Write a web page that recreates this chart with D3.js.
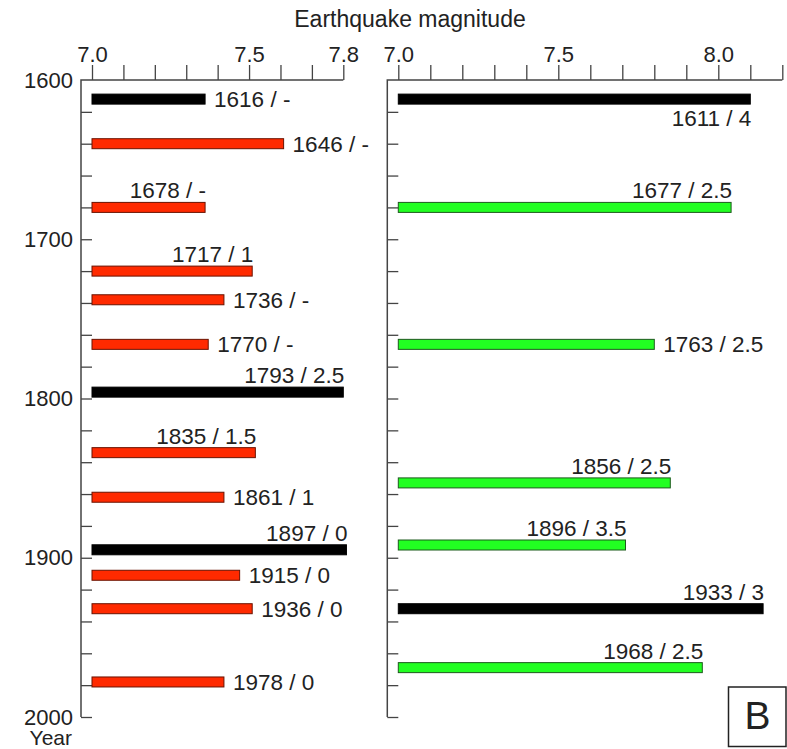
<!DOCTYPE html>
<html>
<head>
<meta charset="utf-8">
<script src="https://cdn.jsdelivr.net/npm/d3@7"></script>
<style>
  body { margin: 0; background: #fff; }
  text { font-family: "Liberation Sans", Arial, sans-serif; fill: #222; }
</style>
</head>
<body>
<script>
// left panel - labels, magnitude, year position as drawn, colour kind, label placement
var leftLabels = ["1616 / -", "1646 / -", "1678 / -", "1717 / 1", "1736 / -", "1770 / -", "1793 / 2.5",
                  "1835 / 1.5", "1861 / 1", "1897 / 0", "1915 / 0", "1936 / 0", "1978 / 0"];
var leftMag = [7.36, 7.61, 7.36, 7.51, 7.42, 7.37, 7.80, 7.52, 7.42, 7.81, 7.47, 7.51, 7.42];
var leftAt = [1612, 1640, 1680, 1720, 1738, 1766, 1796, 1834, 1862, 1895, 1911, 1932, 1978];
var leftKind = ["k", "r", "r", "r", "r", "r", "k", "r", "r", "k", "r", "r", "r"];
var leftPlace = ["right", "right", "above", "above", "right", "right", "above",
                 "above", "right", "above", "right", "right", "right"];

// right panel
var rightLabels = ["1611 / 4", "1677 / 2.5", "1763 / 2.5", "1856 / 2.5", "1896 / 3.5", "1933 / 3", "1968 / 2.5"];
var rightMag = [8.10, 8.04, 7.80, 7.85, 7.71, 8.14, 7.95];
var rightAt = [1612, 1680, 1766, 1853, 1892, 1932, 1969];
var rightKind = ["k", "g", "g", "g", "g", "k", "g"];
var rightPlace = ["below", "above", "right", "above", "above", "above", "above"];

var leftTicks = [7.0, 7.5, 7.8];
var rightTicks = [7.0, 7.5, 8.0];
var yearTicks = [1600, 1700, 1800, 1900, 2000];

var fills = {k: "#000", r: "#ff2a00", g: "#22ff22"};
var strokes = {k: "#000", r: "#6a1200", g: "#1d5a1d"};

var W = 787, H = 749;
var svg = d3.select("body").append("svg").attr("width", W).attr("height", H);

var y = d3.scaleLinear().domain([1600, 2000]).range([80, 717]);

// title
svg.append("text")
    .attr("x", 410).attr("y", 26.5)
    .attr("text-anchor", "middle")
    .style("font-size", "23px")
    .text("Earthquake magnitude");

function panel(axisX, x, labelTicks, labels, mag, at, kind, place, yLabels) {
  var g = svg.append("g");
  var d0 = x.domain()[0], d1 = x.domain()[1];
  var minor = d3.range(Math.round((d1 - d0) * 10) + 1).map(function(i) { return +(d0 + i / 10).toFixed(1); });

  // top axis
  var top = g.append("g").attr("transform", "translate(0,80)")
      .call(d3.axisTop(x).tickValues(minor).tickSize(15).tickPadding(3)
        .tickFormat(function(d) { return labelTicks.indexOf(d) >= 0 ? d3.format(".1f")(d) : ""; }));
  top.select(".domain").remove();
  top.selectAll("line").attr("stroke", "#444").attr("stroke-width", 1.3);
  top.selectAll("text").style("font-size", "22px").style("font-family", "Liberation Sans, Arial, sans-serif").attr("fill", "#222");

  // left axis ticks (inside)
  var side = g.append("g").attr("transform", "translate(" + axisX + ",0)")
      .call(d3.axisRight(y).tickValues(d3.range(1620, 2001, 20)).tickSize(11).tickFormat(""));
  side.select(".domain").remove();
  side.selectAll("line").attr("stroke", "#444").attr("stroke-width", 1.3);

  if (yLabels) {
    var lab = g.append("g").attr("transform", "translate(" + axisX + ",0)")
        .call(d3.axisLeft(y).tickValues(yearTicks).tickSize(0).tickPadding(8).tickFormat(d3.format("d")));
    lab.select(".domain").remove();
    lab.selectAll("text").style("font-size", "22px").style("font-family", "Liberation Sans, Arial, sans-serif").attr("fill", "#222");
  }

  // frame lines
  g.append("path")
      .attr("d", "M" + x(d1) + "," + y(1600) + "H" + axisX + "V" + y(2000))
      .attr("fill", "none").attr("stroke", "#444").attr("stroke-width", 1.5);

  // bars
  var bh = 10;
  g.selectAll("rect.bar").data(mag).enter().append("rect")
      .attr("class", "bar")
      .attr("x", x(d0))
      .attr("y", function(d, i) { return y(at[i]) - bh / 2; })
      .attr("width", function(d) { return x(d) - x(d0); })
      .attr("height", bh)
      .attr("fill", function(d, i) { return fills[kind[i]]; })
      .attr("stroke", function(d, i) { return strokes[kind[i]]; })
      .attr("stroke-width", 1);

  g.selectAll("text.lbl").data(labels).enter().append("text")
      .attr("class", "lbl")
      .style("font-size", "22.5px")
      .attr("x", function(d, i) { return place[i] === "right" ? x(mag[i]) + 9 : x(mag[i]) + 1; })
      .attr("y", function(d, i) {
        if (place[i] === "above") return y(at[i]) - bh / 2 - 4;
        if (place[i] === "below") return y(at[i]) + bh / 2 + 22;
        return y(at[i]);
      })
      .attr("dy", function(d, i) { return place[i] === "right" ? "0.36em" : 0; })
      .attr("text-anchor", function(d, i) { return place[i] === "right" ? "start" : "end"; })
      .text(function(d) { return d; });
}

var xl = d3.scaleLinear().domain([7.0, 7.8]).range([92, 343.3]);
var xr = d3.scaleLinear().domain([7.0, 8.2]).range([398.3, 782.3]);

panel(81, xl, leftTicks, leftLabels, leftMag, leftAt, leftKind, leftPlace, true);
panel(387.3, xr, rightTicks, rightLabels, rightMag, rightAt, rightKind, rightPlace, false);

svg.append("text")
    .attr("x", 72).attr("y", 744.5)
    .attr("text-anchor", "end")
    .style("font-size", "21px")
    .text("Year");

// panel tag
svg.append("rect")
    .attr("x", 728.5).attr("y", 687).attr("width", 57.5).attr("height", 59.5)
    .attr("fill", "#fff").attr("stroke", "#222").attr("stroke-width", 1.5);
svg.append("text")
    .attr("x", 757.5).attr("y", 728.5)
    .attr("text-anchor", "middle")
    .style("font-size", "39px")
    .text("B");
</script>
</body>
</html>
